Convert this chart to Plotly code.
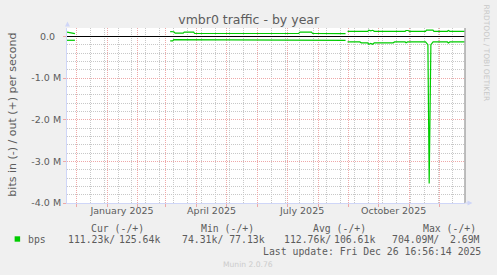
import plotly.graph_objects as go
import pandas as pd

# ---------------- data ----------------
x_start = "2024-11-21 16:56:14"
x_end = "2025-12-26 16:56:14"

out_dates = [
    "2024-11-21 17:00", "2024-11-23 00:00", "2024-11-25 00:00", "2024-11-26 12:00", "2024-11-29 16:00",
    "2024-12-01 00:00",
    "2025-03-05 10:00", "2025-03-09 00:00", "2025-03-10 12:00", "2025-03-18 12:00", "2025-03-19 12:00",
    "2025-03-29 00:00", "2025-03-30 00:00", "2025-07-12 12:00", "2025-07-14 00:00", "2025-07-18 00:00",
    "2025-07-20 00:00", "2025-07-25 12:00", "2025-07-26 12:00", "2025-08-28 16:00",
    "2025-08-29 16:00",
    "2025-08-30 16:00", "2025-09-20 00:00", "2025-09-21 00:00", "2025-09-23 00:00", "2025-09-25 00:00",
    "2025-09-26 12:00", "2025-10-27 12:00", "2025-10-28 12:00", "2025-10-30 12:00", "2025-11-01 00:00",
    "2025-11-17 00:00", "2025-11-18 00:00", "2025-11-24 12:00", "2025-11-25 12:00", "2025-12-09 00:00",
    "2025-12-10 00:00", "2025-12-11 12:00", "2025-12-26 16:00",
]
out_values = [
    0.100e6, 0.095e6, 0.080e6, 0.068e6, 0.065e6,
    None,
    0.115e6, 0.110e6, 0.075e6, 0.075e6, 0.100e6,
    0.100e6, 0.068e6, 0.068e6, 0.100e6, 0.090e6,
    0.100e6, 0.100e6, 0.068e6, 0.065e6,
    None,
    0.120e6, 0.120e6, 0.145e6, 0.130e6, 0.145e6,
    0.120e6, 0.120e6, 0.140e6, 0.140e6, 0.120e6,
    0.120e6, 0.150e6, 0.150e6, 0.120e6, 0.120e6,
    0.140e6, 0.120e6, 0.120e6,
]

in_dates = [
    "2024-11-21 17:00", "2024-11-29 16:00",
    "2024-12-01 00:00",
    "2025-03-05 10:00", "2025-03-08 00:00", "2025-03-09 00:00", "2025-05-01 00:00", "2025-08-28 16:00",
    "2025-08-29 16:00",
    "2025-08-30 16:00", "2025-09-12 00:00", "2025-09-13 12:00", "2025-09-20 00:00", "2025-09-21 00:00",
    "2025-09-23 00:00", "2025-09-25 00:00", "2025-09-26 12:00", "2025-10-15 12:00", "2025-10-17 00:00",
    "2025-10-27 12:00", "2025-10-28 12:00", "2025-10-30 00:00", "2025-11-17 00:00", "2025-11-19 10:00",
    "2025-11-20 17:00", "2025-11-22 10:00", "2025-11-23 12:00", "2025-11-24 16:00", "2025-12-09 00:00",
    "2025-12-10 00:00", "2025-12-11 12:00", "2025-12-26 16:00",
]
in_values = [
    -0.095e6, -0.095e6,
    None,
    -0.110e6, -0.110e6, -0.080e6, -0.088e6, -0.095e6,
    None,
    -0.135e6, -0.135e6, -0.155e6, -0.155e6, -0.190e6,
    -0.170e6, -0.190e6, -0.155e6, -0.155e6, -0.135e6,
    -0.135e6, -0.155e6, -0.135e6, -0.135e6, -0.200e6,
    -3.530e6, -0.200e6, -0.165e6, -0.135e6, -0.135e6,
    -0.160e6, -0.135e6, -0.135e6,
]

y_tickvals = [0, -1.0e6, -2.0e6, -3.0e6, -4.0e6]
y_ticktext = ["0.0\u00a0\u00a0", "-1.0 M", "-2.0 M", "-3.0 M", "-4.0 M"]

month_lines = list(pd.date_range("2024-12-01", "2025-12-01", freq="MS"))
biweek_lines = list(pd.date_range("2024-12-15", "2025-12-26", freq="14D"))
x_label_vals = ["2025-01-16", "2025-04-16", "2025-07-16", "2025-10-16"]
x_label_text = ["January 2025", "April 2025", "July 2025", "October 2025"]

legend_header = ["Cur (-/+)", "Min (-/+)", "Avg (-/+)", "Max (-/+)"]
legend_values = ["111.23k/", "125.64k", "74.31k/ 77.13k", "112.76k/", "106.61k", "704.09M/", "2.69M"]

# ---------------- layout helpers ----------------
W, H = 497, 275
L, R, T, B = 66.5, 31.5, 28, 72
PW, PH = W - L - R, H - T - B


def px(x):
    return (x - L) / PW


def py(y):
    return (H - B - y) / PH


GREEN = "#00cc00"
FONT = "#5c5c5c"
GRID = "#c8c8c8"
MGRID = "#eea8a8"
AXIS = "#cfd6f8"

fig = go.Figure()
fig.add_trace(go.Scatter(x=out_dates, y=out_values, mode="lines",
                         line=dict(color=GREEN, width=1.2), connectgaps=False,
                         showlegend=False, hoverinfo="skip"))
fig.add_trace(go.Scatter(x=in_dates, y=in_values, mode="lines",
                         line=dict(color=GREEN, width=1.2), connectgaps=False,
                         showlegend=False, hoverinfo="skip"))

fig.update_layout(
    width=W, height=H,
    margin=dict(l=L, r=R, t=T, b=B, pad=0),
    paper_bgcolor="#f0f0f0", plot_bgcolor="#ffffff",
    showlegend=False,
    font=dict(family="DejaVu Sans", color=FONT, size=9.5),
    title=dict(text="vmbr0 traffic - by year", x=248.7 / W, xref="container", xanchor="center",
               y=1 - 19.5 / H, yref="container", yanchor="middle",
               font=dict(family="DejaVu Sans", size=12.5, color=FONT)),
    xaxis=dict(type="date", range=[x_start, x_end], showline=True, linecolor=AXIS, linewidth=1,
               tickmode="array", tickvals=month_lines, showticklabels=False,
               ticks="outside", ticklen=3, tickcolor=MGRID, tickwidth=1,
               showgrid=True, gridcolor=MGRID, gridwidth=1, griddash="1px,1px",
               minor=dict(tickmode="array", tickvals=biweek_lines, showgrid=True,
                          gridcolor=GRID, gridwidth=1, griddash="1px,1px", ticks=""),
               zeroline=False),
    xaxis2=dict(type="date", range=[x_start, x_end], overlaying="x", anchor="y", side="bottom",
                tickmode="array", tickvals=x_label_vals, ticktext=x_label_text,
                showgrid=False, showline=False, ticks="", zeroline=False,
                tickfont=dict(family="DejaVu Sans", size=9.5, color=FONT)),
    yaxis=dict(range=[-4.0e6, 0.2e6], showline=True, linecolor=AXIS, linewidth=1,
               tickmode="array", tickvals=y_tickvals, ticktext=y_ticktext,
               ticks="outside", ticklen=3, tickcolor=MGRID,
               tickfont=dict(family="DejaVu Sans", size=9.5, color=FONT),
               showgrid=True, gridcolor=MGRID, gridwidth=1, griddash="1px,1px",
               minor=dict(tickmode="linear", tick0=0, dtick=0.2e6, showgrid=True,
                          gridcolor=GRID, gridwidth=1, griddash="1px,1px", ticks=""),
               zeroline=True, zerolinecolor="#000000", zerolinewidth=1),
)
# helper trace so the label axis is drawn
fig.add_trace(go.Scatter(x=[x_start, x_end], y=[None, None], xaxis="x2", yaxis="y",
                         mode="lines", showlegend=False, hoverinfo="skip"))

shapes = []
# right frame line
shapes.append(dict(type="line", xref="paper", yref="paper", x0=1, x1=1, y0=0, y1=1,
                   line=dict(color="#a8a8a8", width=1.5)))
# axis arrows
shapes.append(dict(type="path", xref="paper", yref="paper",
                   path=f"M {px(64.5)} {py(26.5)} L {px(69.5)} {py(26.5)} L {px(67)} {py(21.5)} Z",
                   fillcolor=AXIS, line=dict(width=0)))
shapes.append(dict(type="line", xref="paper", yref="paper", x0=px(465.5), x1=px(468.5),
                   y0=py(203), y1=py(203), line=dict(color=AXIS, width=1)))
shapes.append(dict(type="path", xref="paper", yref="paper",
                   path=f"M {px(468)} {py(200.5)} L {px(468)} {py(205.5)} L {px(473)} {py(203)} Z",
                   fillcolor=AXIS, line=dict(width=0)))
# legend swatch
shapes.append(dict(type="rect", xref="paper", yref="paper", x0=px(14), x1=px(19.5),
                   y0=py(241.7), y1=py(236.3), fillcolor=GREEN, line=dict(width=0)))
fig.update_layout(shapes=shapes)

MONO = dict(family="DejaVu Sans Mono", size=9.8, color=FONT)


def txt(x, y, s, font, xanchor="left", angle=0):
    fig.add_annotation(x=px(x), y=py(y), xref="paper", yref="paper", text=s, showarrow=False,
                       xanchor=xanchor, yanchor="middle", font=font, borderpad=0,
                       textangle=angle)


# legend header
for xpos, s in zip([89.3, 200.0, 311.7, 422.7], legend_header):
    txt(xpos, 228.5, s, MONO)
# legend row
txt(26.7, 239.5, "bps", MONO)
for xpos, s in zip([66.7, 117.3, 181.0, 283.3, 333.3, 391.7, 449.3], legend_values):
    txt(xpos, 239.5, s, MONO)
txt(261.5, 251.5, "Last update: Fri Dec 26 16:56:14 2025", MONO)
txt(247.7, 264.3, "Munin 2.0.76", dict(family="DejaVu Sans", size=7.6, color="#cccccc"), xanchor="center")
txt(487.5, 53.5, "RRDTOOL / TOBI OETIKER", dict(family="DejaVu Sans", size=7.5, color="#c8c8c8"),
    xanchor="center", angle=90)
txt(11, 115, "bits in (-) / out (+) per second", dict(family="DejaVu Sans", size=11, color=FONT),
    xanchor="center", angle=-90)

fig.write_html("out.html")
